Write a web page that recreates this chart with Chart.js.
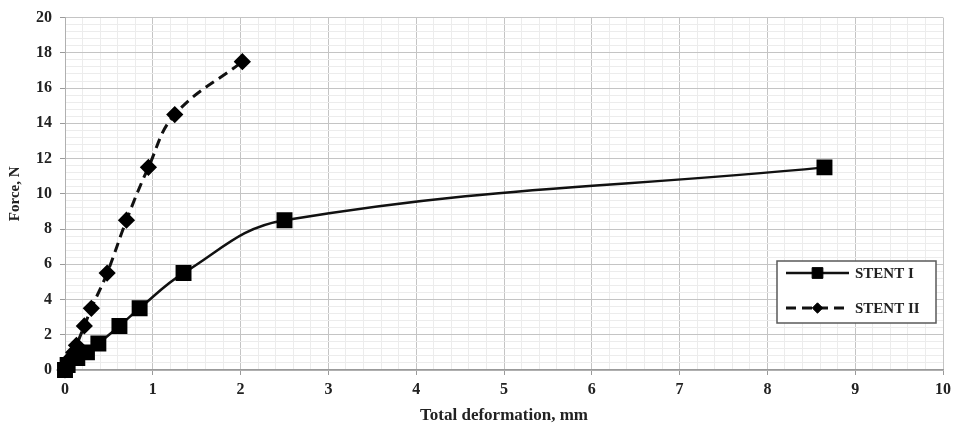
<!DOCTYPE html>
<html lang="en">
<head>
<meta charset="UTF-8">
<title>Force vs total deformation</title>
<script src="https://cdn.jsdelivr.net/npm/chart.js"></script>
<style>
    html, body {
        margin: 0;
        padding: 0;
        background: #fff;
    }
    #wrap {
        width: 957px;
        height: 427px;
        position: relative;
    }
</style>
</head>
<body>
<div id="wrap">
    <canvas id="forceChart"></canvas>
</div>
<script>
    // measured points, deformation in mm / force in N
    const stent1X = [0, 0.03, 0.14, 0.25, 0.38, 0.62, 0.85, 1.35, 2.5, 8.65];
    const stent1Y = [0, 0.28, 0.68, 1.0, 1.5, 2.5, 3.5, 5.5, 8.5, 11.5];
    const stent2X = [0, 0.03, 0.07, 0.1, 0.13, 0.22, 0.3, 0.48, 0.7, 0.95, 1.25, 2.02];
    const stent2Y = [0, 0.3, 0.7, 1.0, 1.4, 2.5, 3.5, 5.5, 8.5, 11.5, 14.5, 17.5];

    const seriesNames = ['STENT I', 'STENT II'];
    const xTickLabels = [0, 1, 2, 3, 4, 5, 6, 7, 8, 9, 10];
    const yTickLabels = [0, 2, 4, 6, 8, 10, 12, 14, 16, 18, 20];

    const toPoints = (xs, ys) => xs.map((x, i) => ({ x: x, y: ys[i] }));
    const isLabelled = (list, v) => list.some(t => Math.abs(t - v) < 1e-6);

    const serif = 'Liberation Serif, Times New Roman, serif';
    const majorGrid = '#c4c4c4';
    const minorGrid = '#ececec';

    // legend box drawn inside the plot, lower right
    const boxLegend = {
        id: 'boxLegend',
        afterDraw(chart) {
            const ctx = chart.ctx;
            const area = chart.chartArea;
            const left = area.right - 166;
            const top = area.bottom - 109;
            const w = 159, h = 62;
            ctx.save();
            ctx.fillStyle = '#fff';
            ctx.fillRect(left, top, w, h);
            ctx.strokeStyle = '#5a5a5a';
            ctx.lineWidth = 1.5;
            ctx.strokeRect(left, top, w, h);

            chart.data.datasets.forEach((ds, i) => {
                const y = top + 12 + i * 35;
                const x0 = left + 9, x1 = left + 72;
                ctx.beginPath();
                ctx.setLineDash(ds.borderDash || []);
                ctx.lineWidth = ds.borderWidth;
                ctx.strokeStyle = ds.borderColor;
                ctx.moveTo(x0, y);
                ctx.lineTo(x1, y);
                ctx.stroke();
                ctx.setLineDash([]);
                ctx.fillStyle = ds.pointBackgroundColor;
                ctx.strokeStyle = ds.pointBorderColor;
                ctx.lineWidth = 1;
                Chart.helpers.drawPoint(ctx, {
                    pointStyle: ds.pointStyle,
                    radius: ds.pointRadius * 0.8,
                    rotation: 0,
                    borderWidth: 1
                }, (x0 + x1) / 2, y);

                ctx.fillStyle = '#222';
                ctx.font = 'bold 15px ' + serif;
                ctx.textBaseline = 'middle';
                ctx.textAlign = 'left';
                ctx.fillText(ds.label, x1 + 6, y + 1);
            });
            ctx.restore();
        }
    };

    const ctx = document.getElementById('forceChart').getContext('2d');
    new Chart(ctx, {
        type: 'scatter',
        data: {
            datasets: [{
                label: seriesNames[0],
                data: toPoints(stent1X, stent1Y),
                showLine: true,
                tension: 0.4,
                borderColor: '#111',
                borderWidth: 2.5,
                pointStyle: 'rect',
                pointRadius: 9.5,
                pointBackgroundColor: '#000',
                pointBorderColor: '#000',
                clip: false
            }, {
                label: seriesNames[1],
                data: toPoints(stent2X, stent2Y),
                showLine: true,
                tension: 0.4,
                borderColor: '#111',
                borderWidth: 3,
                borderDash: [10, 6],
                pointStyle: 'rectRot',
                pointRadius: 6.5,
                pointBackgroundColor: '#000',
                pointBorderColor: '#000',
                clip: false
            }]
        },
        options: {
            responsive: true,
            maintainAspectRatio: false,
            animation: false,
            layout: {
                padding: { top: 16, right: 14, left: 0, bottom: 0 }
            },
            plugins: {
                legend: { display: false },
                tooltip: { enabled: false }
            },
            scales: {
                x: {
                    type: 'linear',
                    min: 0,
                    max: 10,
                    afterFit: s => { s.height = 57; },
                    ticks: {
                        stepSize: 0.2,
                        autoSkip: false,
                        maxRotation: 0,
                        padding: 5,
                        color: '#222',
                        font: { family: serif, size: 16, weight: 'bold' },
                        callback: v => isLabelled(xTickLabels, v) ? String(Math.round(v)) : ''
                    },
                    grid: {
                        color: c => c.tick && isLabelled(xTickLabels, c.tick.value) ? majorGrid : minorGrid,
                        tickColor: c => c.tick && isLabelled(xTickLabels, c.tick.value) ? '#9a9a9a' : 'rgba(0,0,0,0)',
                        tickLength: 5,
                        lineWidth: 1
                    },
                    border: { color: '#9a9a9a', width: 1.5 },
                    title: {
                        display: true,
                        text: 'Total deformation, mm',
                        color: '#222',
                        font: { family: serif, size: 17, weight: 'bold' },
                        padding: { top: 0, bottom: 1 }
                    }
                },
                y: {
                    type: 'linear',
                    min: 0,
                    max: 20,
                    afterFit: s => { s.width = 65; },
                    ticks: {
                        stepSize: 0.4,
                        autoSkip: false,
                        padding: 8,
                        color: '#222',
                        font: { family: serif, size: 16, weight: 'bold' },
                        callback: v => isLabelled(yTickLabels, v) ? String(Math.round(v)) : ''
                    },
                    grid: {
                        color: c => c.tick && isLabelled(yTickLabels, c.tick.value) ? majorGrid : minorGrid,
                        tickColor: c => c.tick && isLabelled(yTickLabels, c.tick.value) ? '#9a9a9a' : 'rgba(0,0,0,0)',
                        tickLength: 5,
                        lineWidth: 1
                    },
                    border: { color: '#b0b0b0', width: 1 },
                    title: {
                        display: true,
                        text: 'Force, N',
                        color: '#222',
                        font: { family: serif, size: 15, weight: 'bold' },
                        padding: { top: 6, bottom: 0 }
                    }
                }
            }
        },
        plugins: [boxLegend]
    });
</script>
</body>
</html>
